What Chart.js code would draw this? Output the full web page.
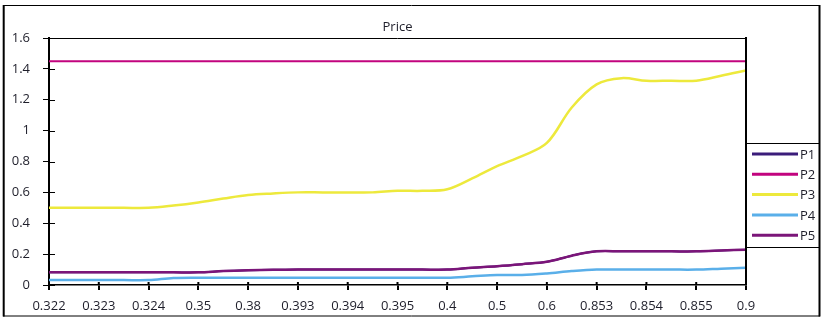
<!DOCTYPE html>
<html>
<head>
<meta charset="utf-8">
<title>Price</title>
<script src="https://cdn.jsdelivr.net/npm/chart.js@4.4.1/dist/chart.umd.min.js"></script>
<style>
    html, body { margin: 0; padding: 0; background: #ffffff; }
    #wrap { width: 822px; height: 320px; }
</style>
</head>
<body>
<div id="wrap"><canvas id="PriceChart" width="822" height="320"></canvas></div>
<script>
// tick labels on the x axis (one per major tick)
const x_labels = ["0.322", "0.323", "0.324", "0.35", "0.38", "0.393", "0.394", "0.395",
    "0.4", "0.5", "0.6", "0.853", "0.854", "0.855", "0.9"];

// series values, read at every tick and half way between ticks
const p1 = [0.082, 0.082, 0.082, 0.082, 0.082, 0.082, 0.082, 0.09, 0.095, 0.098,
    0.1, 0.1, 0.1, 0.1, 0.1, 0.1, 0.1, 0.112, 0.122, 0.135,
    0.15, 0.19, 0.218, 0.218, 0.218, 0.218, 0.218, 0.223, 0.229];
const p2 = [1.45, 1.45, 1.45, 1.45, 1.45, 1.45, 1.45, 1.45, 1.45, 1.45,
    1.45, 1.45, 1.45, 1.45, 1.45, 1.45, 1.45, 1.45, 1.45, 1.45,
    1.45, 1.45, 1.45, 1.45, 1.45, 1.45, 1.45, 1.45, 1.45];
const p3 = [0.5, 0.5, 0.5, 0.5, 0.5, 0.515, 0.535, 0.56, 0.583, 0.593,
    0.6, 0.6, 0.6, 0.6, 0.61, 0.61, 0.62, 0.69, 0.77, 0.835,
    0.92, 1.15, 1.3, 1.34, 1.323, 1.323, 1.323, 1.355, 1.39];
const p4 = [0.032, 0.032, 0.032, 0.032, 0.032, 0.045, 0.047, 0.047, 0.047, 0.047,
    0.047, 0.047, 0.047, 0.047, 0.047, 0.047, 0.047, 0.056, 0.065, 0.065,
    0.075, 0.09, 0.1, 0.1, 0.1, 0.1, 0.1, 0.106, 0.112];
const p5 = [0.082, 0.082, 0.082, 0.082, 0.082, 0.082, 0.082, 0.09, 0.095, 0.098,
    0.1, 0.1, 0.1, 0.1, 0.1, 0.1, 0.1, 0.112, 0.122, 0.135,
    0.15, 0.19, 0.218, 0.218, 0.218, 0.218, 0.218, 0.223, 0.229];

const series_names = ["P1", "P2", "P3", "P4", "P5"];
const series_colors = ["#3b1c7a", "#c2047e", "#ede93c", "#5aafe9", "#7b1579"];
const series_widths = [2, 2, 2.5, 2.5, 2.5];

const font_family = "'Open Sans', 'DejaVu Sans', sans-serif";
const text_color = "#1e1e2a";

// points sit on every tick and half way between
function toPoints(values) {
    return values.map((v, i) => ({ x: i / 2, y: v }));
}

const all_values = [p1, p2, p3, p4, p5];
const datasets = all_values.map((vals, i) => ({
    label: series_names[i],
    data: toPoints(vals),
    borderColor: series_colors[i],
    backgroundColor: series_colors[i],
    borderWidth: series_widths[i],
    pointRadius: 0,
    tension: 0.35,
    fill: false,
    order: all_values.length - i,   // later series drawn on top, like the original
}));

// frame, inner tick halves and legend box
const framePlugin = {
    id: 'frame',
    afterDraw(chart) {
        const ctx = chart.ctx;
        const a = chart.chartArea;
        const xs = chart.scales.x;
        const ys = chart.scales.y;
        ctx.save();
        ctx.strokeStyle = "#000000";

        // outer border
        ctx.lineWidth = 1;
        ctx.beginPath();
        ctx.moveTo(3, 5.5); ctx.lineTo(820, 5.5);
        ctx.moveTo(3, 316); ctx.lineTo(820, 316);
        ctx.stroke();
        ctx.lineWidth = 2;
        ctx.beginPath();
        ctx.moveTo(3.7, 5); ctx.lineTo(3.7, 316.5);
        ctx.moveTo(819.5, 5); ctx.lineTo(819.5, 316.5);
        ctx.stroke();

        // top and right of plot area
        ctx.lineWidth = 1;
        ctx.beginPath();
        ctx.moveTo(a.left, a.top + 0.5); ctx.lineTo(a.right, a.top + 0.5);
        ctx.stroke();
        ctx.lineWidth = 2;
        ctx.beginPath();
        ctx.moveTo(a.right, a.top - 1); ctx.lineTo(a.right, a.bottom);
        ctx.stroke();

        // inner half of tick marks
        ctx.lineWidth = 1;
        ctx.beginPath();
        ys.ticks.forEach(t => {
            const y = Math.round(ys.getPixelForValue(t.value)) + 0.5;
            ctx.moveTo(a.left, y); ctx.lineTo(a.left + 6, y);
        });
        ctx.stroke();
        ctx.lineWidth = 2;
        ctx.beginPath();
        xs.ticks.forEach(t => {
            const x = xs.getPixelForValue(t.value);
            ctx.moveTo(x, a.bottom); ctx.lineTo(x, a.bottom - 3);
        });
        ctx.stroke();

        // legend box
        const lx = a.right;
        const top = 143.5;
        const bottom = 247.5;
        ctx.lineWidth = 1;
        ctx.beginPath();
        ctx.moveTo(lx, top); ctx.lineTo(820, top);
        ctx.moveTo(lx, bottom); ctx.lineTo(820, bottom);
        ctx.stroke();

        ctx.font = "13px " + font_family;
        ctx.textBaseline = "middle";
        ctx.textAlign = "left";
        chart.data.datasets.forEach((ds, i) => {
            const y = top + 10.5 + i * 20.3;
            ctx.strokeStyle = ds.borderColor;
            ctx.lineWidth = 3;
            ctx.beginPath();
            ctx.moveTo(lx + 6, y); ctx.lineTo(lx + 52, y);
            ctx.stroke();
            ctx.fillStyle = text_color;
            ctx.fillText(ds.label, lx + 54, y + 1);
        });
        ctx.restore();
    }
};

const config_price = {
    type: 'line',
    data: { datasets: datasets },
    options: {
        responsive: false,
        animation: false,
        layout: { padding: { left: 0, right: 76, top: 0, bottom: 0 } },
        plugins: {
            legend: { display: false },
            tooltip: { enabled: false },
            title: {
                display: true,
                text: 'Price',
                fullSize: false,
                color: text_color,
                font: { family: font_family, size: 13, weight: 'normal' },
                padding: { top: 19, bottom: 3.4 },
            },
        },
        scales: {
            x: {
                type: 'linear',
                min: 0,
                max: x_labels.length - 1,
                afterFit(scale) { scale.height = 35; },
                grid: {
                    drawOnChartArea: false,
                    drawTicks: true,
                    tickLength: 5,
                    color: "#000000",
                    lineWidth: 2,
                },
                border: { display: true, color: "#000000", width: 1.5 },
                ticks: {
                    stepSize: 1,
                    autoSkip: false,
                    maxRotation: 0,
                    padding: 8,
                    color: text_color,
                    font: { family: font_family, size: 13 },
                    callback: (v) => x_labels[v] !== undefined ? x_labels[v] : '',
                },
            },
            y: {
                min: 0,
                max: 1.6,
                afterFit(scale) { scale.width = 49; },
                grid: {
                    drawOnChartArea: false,
                    drawTicks: true,
                    tickLength: 6,
                    color: "#000000",
                    lineWidth: 1,
                },
                border: { display: true, color: "#000000", width: 2 },
                ticks: {
                    stepSize: 0.2,
                    padding: 13,
                    color: text_color,
                    font: { family: font_family, size: 13 },
                    callback: (v) => String(Math.round(v * 10) / 10),
                },
            },
        },
    },
    plugins: [framePlugin],
};

var PriceChart = new Chart(document.getElementById('PriceChart'), config_price);
</script>
</body>
</html>
